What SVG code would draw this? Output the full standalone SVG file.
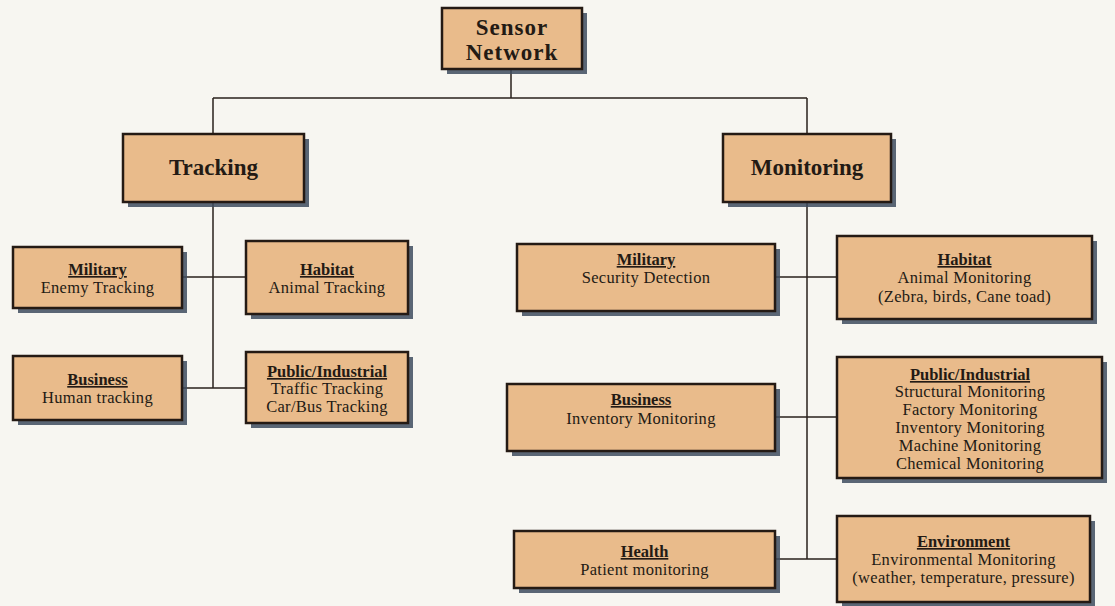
<svg xmlns="http://www.w3.org/2000/svg" width="1115" height="606" viewBox="0 0 1115 606">
  <defs>
    <style>
      .bg { fill: #f7f6f1; }
      .box { fill: #e9bb8b; stroke: #241a14; stroke-width: 2.5; }
      .shadow { fill: #3e4c5f; opacity: 0.85; }
      .wire { stroke: #2a221c; stroke-width: 1.5; fill: none; }
      text { font-family: "Liberation Serif", "Times New Roman", serif; fill: #231a14; text-anchor: middle; }
      .title { font-size: 23px; font-weight: bold; }
      .head { font-size: 16.5px; font-weight: bold; text-decoration: underline; }
      .item { font-size: 16.5px; letter-spacing: 0.3px; }
    </style>
  </defs>

  <rect class="bg" x="0" y="0" width="1115" height="606"/>

  <!-- connectors -->
  <g id="connectors">
    <path class="wire" d="M511 69 V98 M213 98 H807 M213 98 V134 M807 98 V134"/>
    <path class="wire" d="M213 202 V388 M182 277 H246 M182 388 H246"/>
    <path class="wire" d="M807 202 V559 M775 277 H837 M775 417 H837 M775 559 H837"/>
  </g>

  <!-- root -->
  <g id="sensor-network">
    <rect class="shadow" x="447" y="13" width="140" height="61"/>
    <rect class="box" x="442" y="8" width="140" height="61"/>
    <text class="title" x="512" y="35" letter-spacing="1">Sensor</text>
    <text class="title" x="512" y="60" letter-spacing="1">Network</text>
  </g>

  <!-- branches -->
  <g id="tracking">
    <rect class="shadow" x="128" y="139" width="181" height="68"/>
    <rect class="box" x="123" y="134" width="181" height="68"/>
    <text class="title" x="213.5" y="175">Tracking</text>
  </g>
  <g id="monitoring">
    <rect class="shadow" x="728" y="139" width="168" height="68"/>
    <rect class="box" x="723" y="134" width="168" height="68"/>
    <text class="title" x="807" y="175">Monitoring</text>
  </g>

  <!-- tracking leaves -->
  <g id="tracking-military">
    <rect class="shadow" x="18" y="252" width="169" height="61"/>
    <rect class="box" x="13" y="247" width="169" height="61"/>
    <text class="head" x="97.5" y="275">Military</text>
    <text class="item" x="97.5" y="293">Enemy Tracking</text>
  </g>
  <g id="tracking-habitat">
    <rect class="shadow" x="251" y="246" width="162" height="73"/>
    <rect class="box" x="246" y="241" width="162" height="73"/>
    <text class="head" x="327" y="275">Habitat</text>
    <text class="item" x="327" y="293">Animal Tracking</text>
  </g>
  <g id="tracking-business">
    <rect class="shadow" x="18" y="361" width="169" height="64"/>
    <rect class="box" x="13" y="356" width="169" height="64"/>
    <text class="head" x="97.5" y="385">Business</text>
    <text class="item" x="97.5" y="403">Human tracking</text>
  </g>
  <g id="tracking-public">
    <rect class="shadow" x="251" y="357" width="162" height="71"/>
    <rect class="box" x="246" y="352" width="162" height="71"/>
    <text class="head" x="327" y="377">Public/Industrial</text>
    <text class="item" x="327" y="394">Traffic Tracking</text>
    <text class="item" x="327" y="412">Car/Bus Tracking</text>
  </g>

  <!-- monitoring leaves -->
  <g id="monitoring-military">
    <rect class="shadow" x="522" y="249" width="258" height="67"/>
    <rect class="box" x="517" y="244" width="258" height="67"/>
    <text class="head" x="646" y="265">Military</text>
    <text class="item" x="646" y="283">Security Detection</text>
  </g>
  <g id="monitoring-habitat">
    <rect class="shadow" x="842" y="241" width="255" height="83"/>
    <rect class="box" x="837" y="236" width="255" height="83"/>
    <text class="head" x="964.5" y="265">Habitat</text>
    <text class="item" x="964.5" y="283">Animal Monitoring</text>
    <text class="item" x="964.5" y="302">(Zebra, birds, Cane toad)</text>
  </g>
  <g id="monitoring-business">
    <rect class="shadow" x="512" y="389" width="268" height="67"/>
    <rect class="box" x="507" y="384" width="268" height="67"/>
    <text class="head" x="641" y="405">Business</text>
    <text class="item" x="641" y="424">Inventory Monitoring</text>
  </g>
  <g id="monitoring-public">
    <rect class="shadow" x="842" y="362" width="265" height="121"/>
    <rect class="box" x="837" y="357" width="265" height="121"/>
    <text class="head" x="970" y="380">Public/Industrial</text>
    <text class="item" x="970" y="397">Structural Monitoring</text>
    <text class="item" x="970" y="415">Factory Monitoring</text>
    <text class="item" x="970" y="433">Inventory Monitoring</text>
    <text class="item" x="970" y="451">Machine Monitoring</text>
    <text class="item" x="970" y="469">Chemical Monitoring</text>
  </g>
  <g id="monitoring-health">
    <rect class="shadow" x="519" y="536" width="261" height="57"/>
    <rect class="box" x="514" y="531" width="261" height="57"/>
    <text class="head" x="644.5" y="557">Health</text>
    <text class="item" x="644.5" y="575">Patient monitoring</text>
  </g>
  <g id="monitoring-environment">
    <rect class="shadow" x="842" y="521" width="253" height="86"/>
    <rect class="box" x="837" y="516" width="253" height="86"/>
    <text class="head" x="963.5" y="547">Environment</text>
    <text class="item" x="963.5" y="565">Environmental Monitoring</text>
    <text class="item" x="963.5" y="583">(weather, temperature, pressure)</text>
  </g>
</svg>
